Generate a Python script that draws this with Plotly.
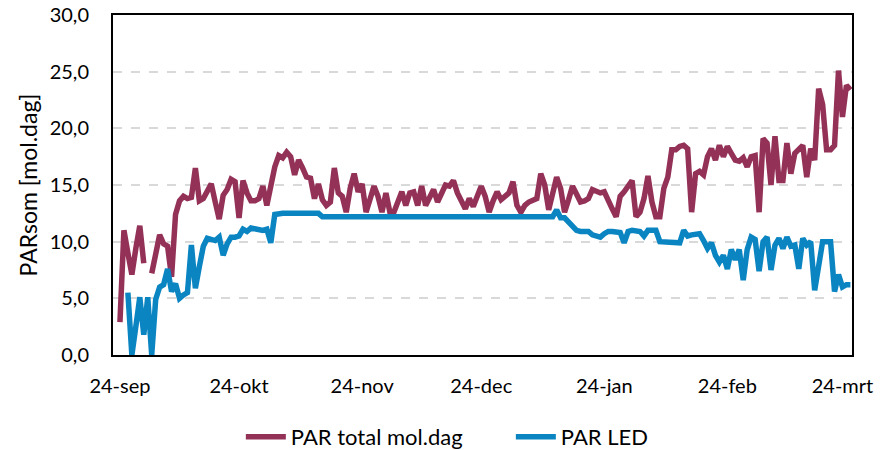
import pandas as pd
import plotly.graph_objects as go

# Daily dates (day 0 = 24 Sep 2019)
start_date = "2019-09-24"
n_days = 185

tick_dates = ["2019-09-24", "2019-10-24", "2019-11-24", "2019-12-24",
              "2020-01-24", "2020-02-24", "2020-03-24"]
tick_labels = ["24-sep", "24-okt", "24-nov", "24-dec", "24-jan", "24-feb", "24-mrt"]

par_total = [
    2.9, 11.0, 9.0, 7.1, 9.4, 11.4, 8.1, None, 7.2, 9.0,
    10.6, 9.8, 9.6, 6.9, 12.4, 13.6, 14.0, 13.8, 13.9, 16.5,
    13.6, 13.8, 14.4, 15.1, 13.5, 12.0, 14.1, 14.6, 15.5, 15.3,
    12.1, 15.4, 14.3, 13.6, 13.6, 13.8, 14.9, 13.2, 14.9, 16.6,
    17.6, 17.4, 17.9, 17.5, 15.9, 17.2, 16.5, 15.7, 15.6, 13.8,
    15.1, 13.7, 13.2, 13.5, 16.5, 14.3, 14.0, 12.6, 14.7, 16.0,
    14.4, 15.1, 12.6, 13.7, 14.9, 14.0, 12.6, 14.3, 12.6, 12.6,
    13.5, 14.4, 13.2, 14.3, 14.4, 13.2, 14.9, 13.2, 13.9, 14.6,
    13.5, 14.4, 15.0, 14.9, 15.4, 14.3, 13.5, 12.9, 13.8, 13.1,
    14.0, 14.9, 14.0, 12.6, 13.6, 14.4, 13.7, 14.0, 14.3, 15.3,
    13.2, 12.6, 13.2, 13.5, 13.7, 13.8, 16.0, 15.0, 12.8, 14.2,
    15.7, 14.7, 12.6, 13.7, 14.9, 14.2, 13.5, 13.6, 13.8, 14.6,
    14.4, 14.3, 14.4, 13.5, 12.9, 12.2, 14.0, 14.4, 14.9, 15.4,
    12.2, 12.6, 13.8, 15.8, 13.5, 12.2, 12.2, 14.7, 15.7, 18.1,
    18.1, 18.4, 18.5, 18.2, 12.6, 16.0, 16.2, 15.9, 17.5, 18.2,
    17.2, 18.5, 17.5, 18.4, 17.8, 17.2, 17.1, 17.4, 16.6, 17.5,
    17.6, 12.6, 19.1, 18.7, 15.0, 19.3, 15.4, 15.4, 18.7, 16.0,
    17.8, 18.2, 18.5, 15.7, 18.2, 17.2, 23.5, 22.1, 18.1, 18.1,
    18.5, 25.1, 21.0, 23.8, 23.4,
]

par_led = [
    None, None, 5.5, 0.0, 2.5, 5.1, 1.8, 5.1, 0.0, 4.9,
    6.0, 6.2, 7.6, 5.6, 6.3, 5.0, 5.3, 5.5, 9.7, 5.9,
    7.8, 9.6, 10.3, 10.2, 10.1, 10.4, 8.8, 9.8, 10.4, 10.4,
    10.5, 11.1, 10.9, 11.2, 11.1, 11.0, 11.0, 11.1, 9.9, 12.4,
    12.5, 12.5, 12.5, 12.5, 12.5, 12.5, 12.5, 12.5, 12.5, 12.5,
    12.5, 12.2, 12.2, 12.2, 12.2, 12.2, 12.2, 12.2, 12.2, 12.2,
    12.2, 12.2, 12.2, 12.2, 12.2, 12.2, 12.2, 12.2, 12.2, 12.2,
    12.2, 12.2, 12.2, 12.2, 12.2, 12.2, 12.2, 12.2, 12.2, 12.2,
    12.2, 12.2, 12.2, 12.2, 12.2, 12.2, 12.2, 12.2, 12.2, 12.2,
    12.2, 12.2, 12.2, 12.2, 12.2, 12.2, 12.2, 12.2, 12.2, 12.2,
    12.2, 12.2, 12.2, 12.2, 12.2, 12.2, 12.2, 12.2, 12.2, 12.2,
    12.8, 12.1, 12.1, 11.7, 11.3, 11.0, 10.9, 10.9, 10.9, 10.6,
    10.5, 10.4, 10.7, 10.9, 10.9, 10.9, 10.8, 9.9, 10.9, 11.0,
    11.0, 10.9, 10.5, 11.0, 11.0, 11.0, 10.0, 10.0, 9.9, 9.9,
    9.9, 9.9, 11.0, 10.5, 10.6, 10.6, 10.7, 10.1, 9.4, 9.9,
    8.8, 8.2, 8.8, 7.6, 9.3, 8.4, 9.3, 6.6, 9.3, 10.4,
    10.2, 7.4, 10.0, 10.4, 7.5, 9.7, 10.3, 9.4, 10.4, 9.6,
    9.7, 7.6, 10.3, 9.7, 10.0, 5.7, 7.8, 10.0, 10.0, 10.0,
    5.6, 7.1, 6.0, 6.2, 6.2,
]

dates = pd.date_range(start_date, periods=n_days, freq="D")

FONT = "Lato, 'Open Sans', sans-serif"
MAROON = "#943157"
BLUE = "#0a85c2"

fig = go.Figure()
fig.add_trace(go.Scatter(x=dates, y=par_total, mode="lines", name="PAR total mol.dag",
                         line=dict(color=MAROON, width=5.5), connectgaps=False))
fig.add_trace(go.Scatter(x=dates, y=par_led, mode="lines", name="PAR LED",
                         line=dict(color=BLUE, width=5.5), connectgaps=False))

t0 = pd.Timestamp(start_date)
x_range = [t0 - pd.Timedelta(hours=42), t0 + pd.Timedelta(hours=184.4 * 24)]

fig.update_layout(
    width=888, height=450,
    margin=dict(l=113, r=36, t=15, b=95, autoexpand=False),
    paper_bgcolor="white", plot_bgcolor="white",
    separators=",.",
    font=dict(family=FONT, size=20, color="#000000"),
    showlegend=True,
    legend=dict(orientation="h", x=0.173, xanchor="left", y=-0.241, yanchor="middle",
                font=dict(size=22, family=FONT), itemwidth=40,
                entrywidth=215, entrywidthmode="pixels",
                bgcolor="rgba(0,0,0,0)"),
    xaxis=dict(type="date", range=x_range, tickvals=pd.to_datetime(tick_dates),
               ticktext=tick_labels, showgrid=False, zeroline=False,
               showline=True, linecolor="#000000", linewidth=2, mirror=True,
               ticks="", ticklabelstandoff=12, automargin=False,
               tickfont=dict(size=20, family=FONT)),
    yaxis=dict(range=[0, 30], dtick=5, tickformat=".1f", showgrid=True,
               gridcolor="#d9d9d9", griddash="dash", gridwidth=1.5,
               zeroline=False, showline=True, linecolor="#000000", linewidth=2,
               mirror=True, ticks="", ticklabelstandoff=18, automargin=False,
               tickfont=dict(size=20, family=FONT),
               title=dict(text="PARsom [mol.dag]", standoff=6,
                          font=dict(size=23, family=FONT))),
)

fig.write_html("out.html", config={"displayModeBar": False},
               post_script="document.body.style.margin='0';")
